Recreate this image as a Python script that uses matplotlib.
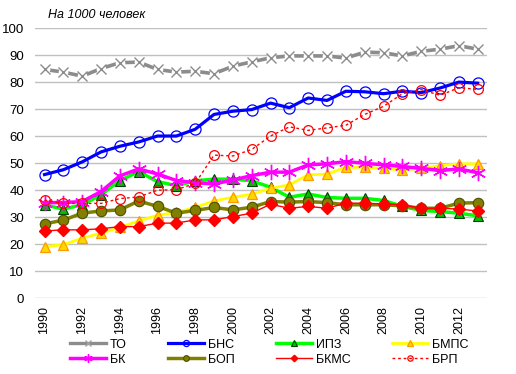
import matplotlib
matplotlib.use("Agg")
import matplotlib.pyplot as plt

plt.rcParams["font.family"] = ["Liberation Sans", "DejaVu Sans"]

years = list(range(1990, 2014))

to_vals = [84.8, 83.8, 82.3, 85.1, 87.3, 87.5, 84.8, 83.8, 84.1, 83.2, 86.0, 87.6,
           89.1, 89.8, 89.8, 89.8, 89.0, 91.2, 91.0, 89.8, 91.5, 92.3, 93.6, 92.3]
bns_vals = [45.8, 47.6, 50.5, 54.2, 56.3, 57.9, 60.1, 60.1, 62.6, 68.1, 69.3, 69.9,
            72.3, 70.6, 74.2, 73.3, 76.7, 76.5, 75.8, 76.7, 76.2, 77.9, 80.1, 79.7]
ipz_vals = [34.6, 33.0, 34.6, 38.3, 43.6, 46.9, 43.2, 41.7, 43.5, 44.1, 44.1, 43.5,
            41.1, 37.4, 38.6, 37.3, 37.0, 37.0, 36.2, 34.0, 32.5, 32.1, 31.5, 30.5]
bmps_vals = [19.1, 19.8, 22.2, 24.1, 26.2, 28.6, 30.7, 31.8, 33.6, 36.0, 37.4, 38.5,
             40.7, 42.0, 45.7, 46.0, 48.5, 48.5, 48.1, 47.5, 48.1, 49.1, 49.8, 49.8]
bk_vals = [35.4, 35.4, 35.8, 39.5, 45.3, 47.9, 46.0, 43.6, 42.8, 42.3, 43.8, 45.4,
           46.7, 46.7, 49.4, 49.8, 50.6, 50.0, 49.4, 48.8, 48.1, 47.3, 47.9, 46.5]
bop_vals = [27.5, 28.9, 31.5, 32.3, 32.7, 36.0, 34.0, 31.5, 32.5, 33.6, 32.7, 33.7,
            35.8, 35.6, 35.8, 35.4, 34.6, 34.6, 34.6, 34.2, 33.3, 33.3, 35.2, 35.4]
bkms_vals = [24.9, 25.3, 25.3, 25.7, 26.5, 26.5, 27.8, 27.8, 29.0, 29.0, 30.2, 31.5,
             34.8, 33.3, 34.0, 33.3, 35.2, 35.2, 34.9, 34.6, 33.3, 33.3, 33.0, 32.3]
brp_vals = [36.3, 35.1, 35.1, 35.1, 36.9, 37.5, 40.0, 40.2, 42.5, 53.0, 52.7, 55.1,
            60.1, 63.5, 62.2, 63.1, 64.1, 68.1, 71.1, 75.8, 77.3, 75.2, 78.0, 77.4]

fig = plt.figure(figsize=(5.16, 3.74), dpi=100)
ax = fig.add_axes([0.068, 0.203, 0.876, 0.721])

# grid
for v in range(0, 101, 10):
    ax.axhline(v, color="#C0C0C0", lw=1, zorder=0)

# TO: grey line with gaps at the x markers
ax.plot(years, to_vals, color="#8C8C8C", lw=2.6, zorder=2)
ax.plot(years, to_vals, ls="none", marker="o", ms=7, mfc="white", mec="none", zorder=2.1)
ax.plot(years, to_vals, ls="none", marker="x", ms=7, mec="#8C8C8C", mew=1, zorder=2.2)
h_to, = ax.plot([], [], color="#8C8C8C", lw=2.4, marker="x", ms=7, mec="#A0A0A0", mew=1)

h_bns, = ax.plot(years, bns_vals, color="#0000FF", lw=2.3, marker="o", ms=8,
                 mfc="none", mec="#0000FF", mew=0.9, zorder=3)
h_ipz, = ax.plot(years, ipz_vals, color="#00FF00", lw=2.5, marker="^", ms=7,
                 mfc="#00C000", mec="#004000", mew=0.8, zorder=3)
h_bmps, = ax.plot(years, bmps_vals, color="#FFFF00", lw=2.0, marker="^", ms=7,
                  mfc="#FFD700", mec="#FF9900", mew=0.9, zorder=3)
h_bk, = ax.plot(years, bk_vals, color="#FF00FF", lw=2.5, marker=(6, 2, 0), ms=11,
                mec="#FF00FF", mew=1, zorder=3)
h_bop, = ax.plot(years, bop_vals, color="#808000", lw=2.5, marker="o", ms=7.5,
                 mfc="#808000", mec="#4D4D00", mew=0.8, zorder=3)
h_bkms, = ax.plot(years, bkms_vals, color="#FF0000", lw=1.0, marker="D", ms=6,
                  mfc="#FF0000", mec="#FF0000", zorder=4)
h_brp, = ax.plot(years, brp_vals, color="#FF0000", lw=1.0, ls=(0, (2, 2)), marker="o",
                 ms=7, mfc="none", mec="#FF0000", mew=0.9, zorder=3)

ax.set_xlim(1989.5, 2013.5)
ax.set_ylim(0, 100)
ax.set_yticks(range(0, 101, 10))
ax.set_xticks(range(1990, 2013, 2))
ax.set_xticklabels([str(y) for y in range(1990, 2013, 2)], rotation=90, fontsize=9)
ax.tick_params(axis="y", length=0, pad=8, labelsize=9.5)
ax.tick_params(axis="x", length=0, pad=6)
for sp in ax.spines.values():
    sp.set_visible(False)

fig.text(0.093, 0.953, "На 1000 человек", fontsize=9, style="italic")

handles = [h_to, h_bk, h_bns, h_bop, h_ipz, h_bkms, h_bmps, h_brp]
labels = ["ТО", "БК", "БНС", "БОП", "ИПЗ", "БКМС", "БМПС", "БРП"]
fig.legend(handles, labels, ncol=4, loc="center", bbox_to_anchor=(0.522, 0.058),
           frameon=False, fontsize=9, handlelength=2.9, handletextpad=0.3,
           columnspacing=3.3, labelspacing=0.25, numpoints=1, markerscale=0.55)

fig.savefig("out.png", dpi=100)
